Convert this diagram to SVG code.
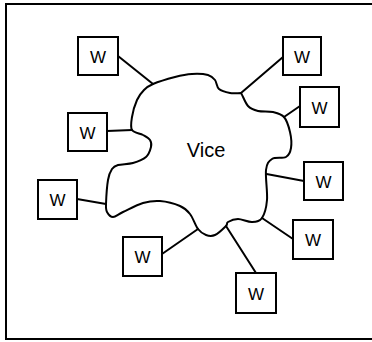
<svg xmlns="http://www.w3.org/2000/svg" width="372" height="342" viewBox="0 0 372 342">
<style>
.box{fill:#fff;stroke:#000;stroke-width:2}
.lbl{font-family:"Liberation Sans",Arial,sans-serif;font-size:17px;text-anchor:middle;fill:#000}
.ln{stroke:#000;stroke-width:2;fill:none;stroke-linecap:round}
</style>
<rect x="0" y="0" width="372" height="342" fill="#fff"/>
<path d="M372,4 H6 V339 H372" fill="none" stroke="#000" stroke-width="2"/>
<g id="connectors">
<line class="ln" x1="118" y1="56" x2="153" y2="84"/>
<line class="ln" x1="107" y1="131" x2="132" y2="130"/>
<line class="ln" x1="77" y1="199" x2="106" y2="204"/>
<line class="ln" x1="162" y1="254" x2="198" y2="229"/>
<line class="ln" x1="283" y1="57" x2="241" y2="93"/>
<line class="ln" x1="300" y1="106" x2="284" y2="117"/>
<line class="ln" x1="304" y1="181" x2="266.5" y2="174"/>
<line class="ln" x1="293" y1="239" x2="262" y2="218"/>
<line class="ln" x1="256" y1="273" x2="226" y2="226"/>
</g>
<g id="vice">
<path class="ln" stroke-linejoin="round" d="M153,84 C158.2,81.8 168.5,78.7 175,77 C181.5,75.3 186.5,74.3 192,74 C197.5,73.7 204.2,74 208,75 C211.8,76 213.2,77.7 215,80 C216.8,82.3 216.5,86.8 219,89 C221.5,91.2 226.3,92.3 230,93 C233.7,93.7 238,93 241,93 C243,96 245.2,103 248,106 C250.8,109 253.8,110 258,111 C262.2,112 268.7,111 273,112 C277.3,113 281.2,113.7 284,117 C286.8,120.3 288.8,126.8 290,132 C291.2,137.2 291.7,143.8 291,148 C290.3,152.2 289.2,155.2 286,157 C282.8,158.8 275.3,156.8 272,159 C268.7,161.2 266.8,163.2 266,170 C265.2,176.8 267.7,192 267,200 C266.3,208 264.5,214.3 262,218 C259.5,221.7 256,221.8 252,222 C248,222.2 242,219 238,219 C234,219 230,220.8 228,222 C226,223.2 228.2,223.8 226,226 C223.8,228.2 218.3,233.5 215,235 C211.7,236.5 208.8,236 206,235 C203.2,234 200.7,232.5 198,229 C195.3,225.5 193,217.8 190,214 C187,210.2 185,208.2 180,206 C175,203.8 166.2,201.5 160,201 C153.8,200.5 149.2,201.2 143,203 C136.8,204.8 128,209.7 123,212 C118,214.3 115.7,217 113,217 C110.3,217 108.2,214.2 107,212 C105.8,209.8 105.8,209.3 106,204 C106.2,198.7 107,185.8 108,180 C109,174.2 110.3,171.5 112,169 C113.7,166.5 114.5,166 118,165 C121.5,164 128.3,164.3 133,163 C137.7,161.7 143,159.7 146,157 C149,154.3 150.3,149.8 151,147 C151.7,144.2 151.3,142 150,140 C148.7,138 146,136.7 143,135 C140,133.3 133.8,133 132,130 C130.2,127 131.2,122 132,117 C132.8,112 135,104.5 137,100 C139,95.5 141.3,92.7 144,90 C146.7,87.3 147.8,86.2 153,84 Z"/>
<text x="206" y="157" font-family="Liberation Sans, Arial, sans-serif" font-size="20" text-anchor="middle">Vice</text>
</g>
<g id="w1"><rect class="box" x="78" y="37" width="40" height="38"/><text class="lbl" x="98" y="63">W</text></g>
<g id="w2"><rect class="box" x="68" y="113" width="39" height="38"/><text class="lbl" x="87.5" y="138.5">W</text></g>
<g id="w3"><rect class="box" x="38" y="180" width="39" height="39"/><text class="lbl" x="57.5" y="206">W</text></g>
<g id="w4"><rect class="box" x="123" y="237" width="39" height="39"/><text class="lbl" x="142.5" y="263">W</text></g>
<g id="w5"><rect class="box" x="283" y="37" width="38" height="38"/><text class="lbl" x="302" y="63">W</text></g>
<g id="w6"><rect class="box" x="300" y="87" width="39" height="40"/><text class="lbl" x="319.5" y="114">W</text></g>
<g id="w7"><rect class="box" x="304" y="162" width="39" height="38"/><text class="lbl" x="323.5" y="188">W</text></g>
<g id="w8"><rect class="box" x="293" y="220" width="40" height="39"/><text class="lbl" x="313" y="246">W</text></g>
<g id="w9"><rect class="box" x="236" y="273" width="40" height="40"/><text class="lbl" x="256" y="300">W</text></g>
</svg>
